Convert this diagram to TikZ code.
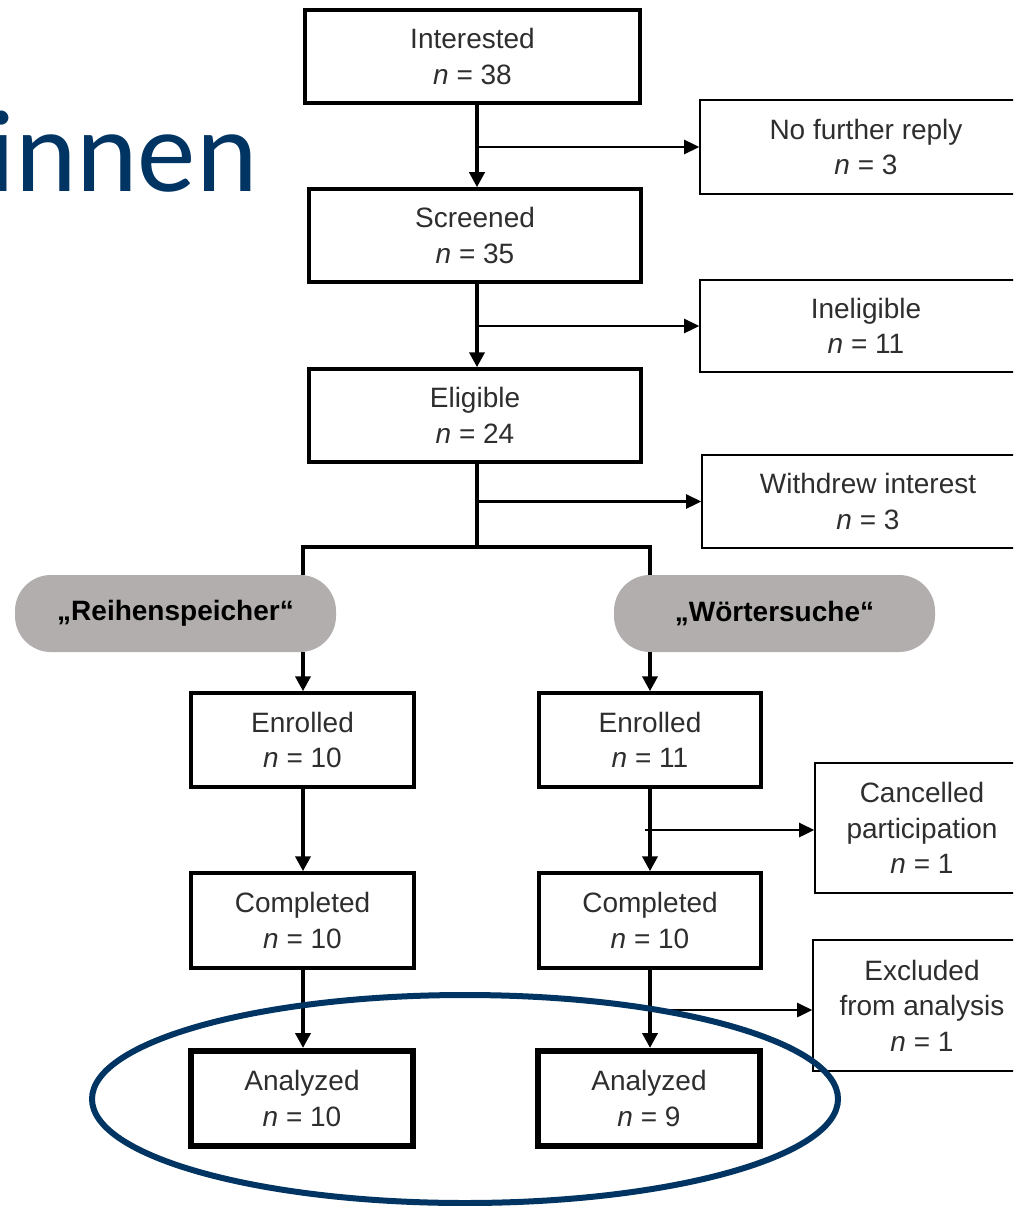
\documentclass[tikz,border=0pt]{standalone}
\usepackage{fontspec}
\setmainfont{Liberation Sans}
\newfontfamily\titlefont{Carlito}
\usetikzlibrary{arrows.meta}
\definecolor{navy}{HTML}{003462}
\definecolor{pillgray}{HTML}{B1AEAD}
\definecolor{txt}{HTML}{2E2E2E}
\begin{document}
\begin{tikzpicture}[x=1pt,y=-1pt,
  boxtext/.style={text=txt, font=\fontsize{28}{35.5}\selectfont, align=center, inner sep=0pt},
  mainbox/.style={boxtext, draw=black, line width=3.5pt, fill=white},
  sidebox/.style={boxtext, draw=black, line width=1.6pt, fill=white},
  finalbox/.style={boxtext, draw=black, line width=6pt, fill=white},
  pillbox/.style={fill=pillgray, rounded corners=36pt, inner sep=0pt, text=black, font=\bfseries\fontsize{28}{34}\selectfont},
  trunkline/.style={line width=4pt, black},
  downarrow/.style={line width=4pt, black, -{Triangle[length=15pt,width=15pt]}},
  sidearrow/.style={line width=2.6pt, black, -{Triangle[length=15pt,width=14pt]}}
]
\useasboundingbox (0,0) rectangle (1013,1206);
\clip (0,0) rectangle (1013,1206);
\fill[white] (0,0) rectangle (1013,1206);

% title fragment
\node[anchor=base east, inner sep=0pt, text=navy, font=\titlefont\fontsize{117}{117}\selectfont] (title) at (258,192) {innen};

% coordinates for connector columns
\coordinate (trunk) at (477,0);
\coordinate (colL) at (303,0);
\coordinate (colR) at (650,0);
\coordinate (split) at (0,547);

% main column
\node[mainbox, minimum width=335pt, minimum height=93pt] (int) at (472.5,56.5) {Interested\\\textit{n} = 38};
\node[mainbox, minimum width=332pt, minimum height=93pt] (scr) at (475,235.5) {Screened\\\textit{n} = 35};
\node[mainbox, minimum width=332pt, minimum height=93pt] (eli) at (475,415.5) {Eligible\\\textit{n} = 24};

% side boxes
\node[sidebox, minimum width=332pt, minimum height=94pt] (nfr) at (866,147) {No further reply\\\textit{n} = 3};
\node[sidebox, minimum width=332pt, minimum height=92pt] (ine) at (866,326) {Ineligible\\\textit{n} = 11};
\node[sidebox, minimum width=332pt, minimum height=93pt] (wdi) at (868,501.5) {Withdrew interest\\\textit{n} = 3};

% arms
\node[pillbox, minimum width=321pt, minimum height=77pt] (reih) at (175.5,613.5) {„Reihenspeicher“};
\node[pillbox, minimum width=321pt, minimum height=77pt] (wort) at (774.5,613.5) {„Wörtersuche“};

\node[mainbox, minimum width=223pt, minimum height=94pt] (enrL) at (302.5,740) {Enrolled\\\textit{n} = 10};
\node[mainbox, minimum width=222pt, minimum height=94pt] (enrR) at (650,740) {Enrolled\\\textit{n} = 11};
\node[sidebox, minimum width=214pt, minimum height=130pt] (canc) at (922,828) {Cancelled\\participation\\\textit{n} = 1};
\node[mainbox, minimum width=223pt, minimum height=95pt] (compL) at (302.5,920.5) {Completed\\\textit{n} = 10};
\node[mainbox, minimum width=222pt, minimum height=95pt] (compR) at (650,920.5) {Completed\\\textit{n} = 10};
\node[sidebox, minimum width=218pt, minimum height=131pt] (excl) at (922,1005.5) {Excluded\\from analysis\\\textit{n} = 1};
\node[finalbox, minimum width=222pt, minimum height=95pt] (anaL) at (302,1098.5) {Analyzed\\\textit{n} = 10};
\node[finalbox, minimum width=222pt, minimum height=95pt] (anaR) at (649,1098.5) {Analyzed\\\textit{n} = 9};

% connectors, main column
\draw[downarrow] (int.south -| trunk) -- (scr.north -| trunk);
\draw[sidearrow] (trunk |- nfr.west) -- (nfr.west);
\draw[downarrow] (scr.south -| trunk) -- (eli.north -| trunk);
\draw[sidearrow] (trunk |- ine.west) -- (ine.west);
\draw[trunkline] (eli.south -| trunk) -- (trunk |- split);
\draw[sidearrow] (trunk |- wdi.west) -- (wdi.west);
\draw[trunkline, line join=miter] (reih.north -| colL) -- (colL |- split) -- (colR |- split) -- (wort.north -| colR);

% arms
\draw[downarrow] (reih.south -| colL) -- (enrL.north -| colL);
\draw[downarrow] (wort.south -| colR) -- (enrR.north -| colR);
\draw[downarrow] (enrL.south -| colL) -- (compL.north -| colL);
\draw[downarrow] (enrR.south -| colR) -- (compR.north -| colR);
\draw[sidearrow] (colR |- canc.west) ++(-5,2) -- (canc.west |- 0,830);
\draw[downarrow] (compL.south -| colL) -- (anaL.north -| colL);
\draw[downarrow] (compR.south -| colR) -- (anaR.north -| colR);
\draw[sidearrow] (colR |- 0,1010) -- (excl.west |- 0,1010);

% highlight ellipse
\draw[navy, line width=6pt] (465,1099) ellipse [x radius=373, y radius=104];
\end{tikzpicture}
\end{document}
